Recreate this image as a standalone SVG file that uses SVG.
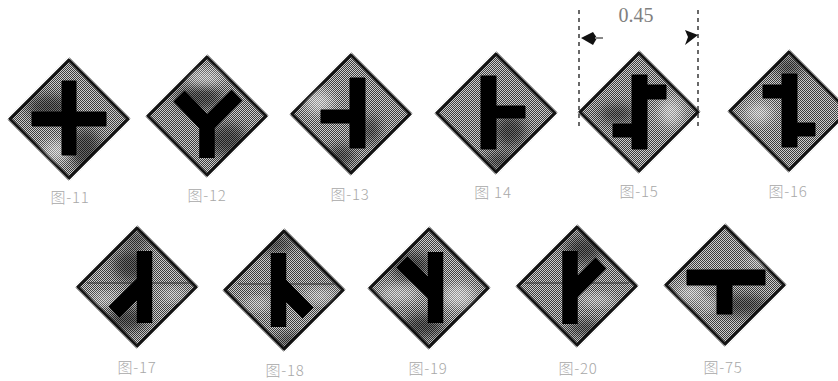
<svg xmlns="http://www.w3.org/2000/svg" xmlns:xlink="http://www.w3.org/1999/xlink" width="838" height="381" viewBox="0 0 838 381">
<style>
.halo{fill:none;stroke:url(#lite);stroke-width:5;stroke-linejoin:round}
.face{fill:url(#dith);stroke:#141414;stroke-width:3;stroke-linejoin:round}
.sym{fill:#000;stroke:#000;stroke-width:1}
.road{fill:none;stroke:#000;stroke-width:15.5;stroke-linejoin:miter}
.dk{fill:#000;opacity:.5;filter:url(#blur)}
.lt{fill:#fff;opacity:.5;filter:url(#blur)}
.lab{font-family:"Noto Sans CJK SC","Liberation Sans",sans-serif;font-size:15px;font-weight:300;fill:#a8a8a8;text-anchor:middle;letter-spacing:.8px}
.dim{font-family:"Liberation Serif",serif;font-size:20px;fill:#808080;text-anchor:middle}
.dash{fill:none;stroke:#444;stroke-width:1.6;stroke-dasharray:4 4}
.arr{fill:#111}
.ln{fill:none;stroke:#333;stroke-width:1}
</style>
<defs>
<pattern id="dith" width="2" height="2" patternUnits="userSpaceOnUse">
<rect width="2" height="2" fill="#cfcfcf"/>
<rect width="1" height="1" fill="#3c3c3c"/>
<rect x="1" y="1" width="1" height="1" fill="#3c3c3c"/>
</pattern>
<pattern id="lite" width="2" height="2" patternUnits="userSpaceOnUse">
<rect width="2" height="2" fill="#fff"/>
<rect width="1" height="1" fill="#999"/>
<rect x="1" y="1" width="1" height="1" fill="#999"/>
</pattern>
<filter id="blur" x="-40%" y="-40%" width="180%" height="180%"><feGaussianBlur stdDeviation="6"/></filter>
<clipPath id="c"><path d="M0-59 59 0 0 59-59 0Z"/></clipPath>
<path id="d" d="M0-59 59 0 0 59-59 0Z"/>
</defs>

<g id="sign-11" transform="translate(69 119)">
<use xlink:href="#d" class="halo"/><use xlink:href="#d" class="face"/>
<g clip-path="url(#c)"><ellipse class="dk" cx="-20" cy="-12" rx="22" ry="12"/><ellipse class="dk" cx="16" cy="30" rx="16" ry="20"/><ellipse class="lt" cx="-12" cy="32" rx="14" ry="10"/></g>
</g>
<g id="sign-12" transform="translate(207 116)">
<use xlink:href="#d" class="halo"/><use xlink:href="#d" class="face"/>
<g clip-path="url(#c)"><ellipse class="dk" cx="-8" cy="-18" rx="24" ry="12"/><ellipse class="dk" cx="20" cy="24" rx="20" ry="16"/><ellipse class="lt" cx="-2" cy="-38" rx="18" ry="7"/></g>
</g>
<g id="sign-13" transform="translate(351 114)">
<use xlink:href="#d" class="halo"/><use xlink:href="#d" class="face"/>
<g clip-path="url(#c)"><ellipse class="dk" cx="-10" cy="42" rx="14" ry="10"/><ellipse class="lt" cx="-32" cy="-12" rx="14" ry="12"/><ellipse class="dk" cx="20" cy="16" rx="8" ry="14"/></g>
</g>
<g id="sign-14" transform="translate(496 113)">
<use xlink:href="#d" class="halo"/><use xlink:href="#d" class="face"/>
<g clip-path="url(#c)"><ellipse class="dk" cx="14" cy="18" rx="16" ry="16"/><ellipse class="dk" cx="4" cy="48" rx="16" ry="8"/></g>
</g>
<g id="sign-15" transform="translate(639 112)">
<use xlink:href="#d" class="halo"/><use xlink:href="#d" class="face"/>
<g clip-path="url(#c)"><ellipse class="dk" cx="-22" cy="2" rx="18" ry="9"/><ellipse class="lt" cx="32" cy="0" rx="12" ry="14"/></g>
</g>
<g id="sign-16" transform="translate(789 111)">
<use xlink:href="#d" class="halo"/><use xlink:href="#d" class="face"/>
<g clip-path="url(#c)"><ellipse class="lt" cx="-30" cy="2" rx="14" ry="10"/><ellipse class="dk" cx="0" cy="-44" rx="14" ry="8"/></g>
</g>
<g id="sign-17" transform="translate(137 287)">
<use xlink:href="#d" class="halo"/><use xlink:href="#d" class="face"/>
<g clip-path="url(#c)"><ellipse class="dk" cx="-6" cy="-22" rx="18" ry="16"/><ellipse class="dk" cx="-10" cy="32" rx="20" ry="12"/><ellipse class="dk" cx="0" cy="-48" rx="14" ry="6"/><ellipse class="lt" cx="-32" cy="12" rx="14" ry="5"/><ellipse class="lt" cx="36" cy="8" rx="12" ry="5"/></g>
<path class="ln" d="M-50-4H54"/>
</g>
<g id="sign-18" transform="translate(284 290)">
<use xlink:href="#d" class="halo"/><use xlink:href="#d" class="face"/>
<g clip-path="url(#c)"><ellipse class="dk" cx="-10" cy="-46" rx="20" ry="8"/><ellipse class="dk" cx="4" cy="50" rx="14" ry="6"/><ellipse class="lt" cx="36" cy="6" rx="16" ry="6"/><ellipse class="lt" cx="-26" cy="14" rx="14" ry="5"/></g>
<path class="ln" d="M-46-6H50"/>
</g>
<g id="sign-19" transform="translate(429 288)">
<use xlink:href="#d" class="halo"/><use xlink:href="#d" class="face"/>
<g clip-path="url(#c)"><ellipse class="dk" cx="-18" cy="-22" rx="20" ry="14"/><ellipse class="lt" cx="-30" cy="6" rx="20" ry="7"/><ellipse class="lt" cx="30" cy="8" rx="16" ry="12"/><ellipse class="dk" cx="-6" cy="38" rx="20" ry="12"/></g>
</g>
<g id="sign-20" transform="translate(577 286)">
<use xlink:href="#d" class="halo"/><use xlink:href="#d" class="face"/>
<g clip-path="url(#c)"><ellipse class="dk" cx="6" cy="-36" rx="18" ry="14"/><ellipse class="lt" cx="20" cy="14" rx="18" ry="5"/><ellipse class="dk" cx="8" cy="42" rx="18" ry="7"/></g>
<path class="ln" d="M-52-3H52"/>
</g>
<g id="sign-75" transform="translate(725 285)">
<use xlink:href="#d" class="halo"/><use xlink:href="#d" class="face"/>
<g clip-path="url(#c)"><ellipse class="lt" cx="-34" cy="8" rx="14" ry="8"/><ellipse class="lt" cx="36" cy="-24" rx="14" ry="5"/><ellipse class="dk" cx="16" cy="20" rx="26" ry="10"/><ellipse class="lt" cx="-14" cy="20" rx="14" ry="5"/></g>
</g>

<g id="symbols">
<path class="sym" d="M62 81h14v31h30v14H76v29H62v-29H32v-14h30z"/>
<path class="road" d="M207 158V125L179 96M207 125L237 95"/>
<path class="sym" d="M350 78h15v70h-15v-25h-29v-13h29z"/>
<path class="sym" d="M481 76h15v30h29v12h-29v31h-15z"/>
<path class="sym" d="M632 75h15v10h19v14h-19v50h-15v-12h-19v-13h19z"/>
<path class="sym" d="M782 74h15v49h18v13h-18v11h-15zM763 85h19v13h-19z"/>
<path class="road" d="M144.500 251V323M144.500 282L114 312"/>
<path class="road" d="M278.500 253V327M278.500 283L308 313"/>
<path class="road" d="M435.500 252V323M435.500 295L402 262"/>
<path class="road" d="M570 251V324M570 294L601 263"/>
<path class="sym" d="M687 270h78v15h-33v29h-15v-29h-30z"/>
</g>

<g id="connectors">
<path class="dash" d="M579 10V126"/>
<path class="dash" d="M698 10V126"/>
<path class="arr" d="M581 38 593 32 597 38 593 45Z"/>
<path d="M595 38H603" stroke="#888" stroke-width="2" fill="none"/>
<path class="arr" d="M698 35 685 30 688 37 685 45Z"/>
</g>

<g id="labels">
<text class="dim" x="636" y="22">0.45</text>
<text class="lab" x="70" y="203">图-11</text>
<text class="lab" x="207" y="201">图-12</text>
<text class="lab" x="350" y="200">图-13</text>
<text class="lab" x="493" y="198">图 14</text>
<text class="lab" x="639" y="197">图-15</text>
<text class="lab" x="788" y="197">图-16</text>
<text class="lab" x="137" y="373">图-17</text>
<text class="lab" x="285" y="376">图-18</text>
<text class="lab" x="428" y="374">图-19</text>
<text class="lab" x="578" y="374">图-20</text>
<text class="lab" x="723" y="373">图-75</text>
</g>
</svg>
